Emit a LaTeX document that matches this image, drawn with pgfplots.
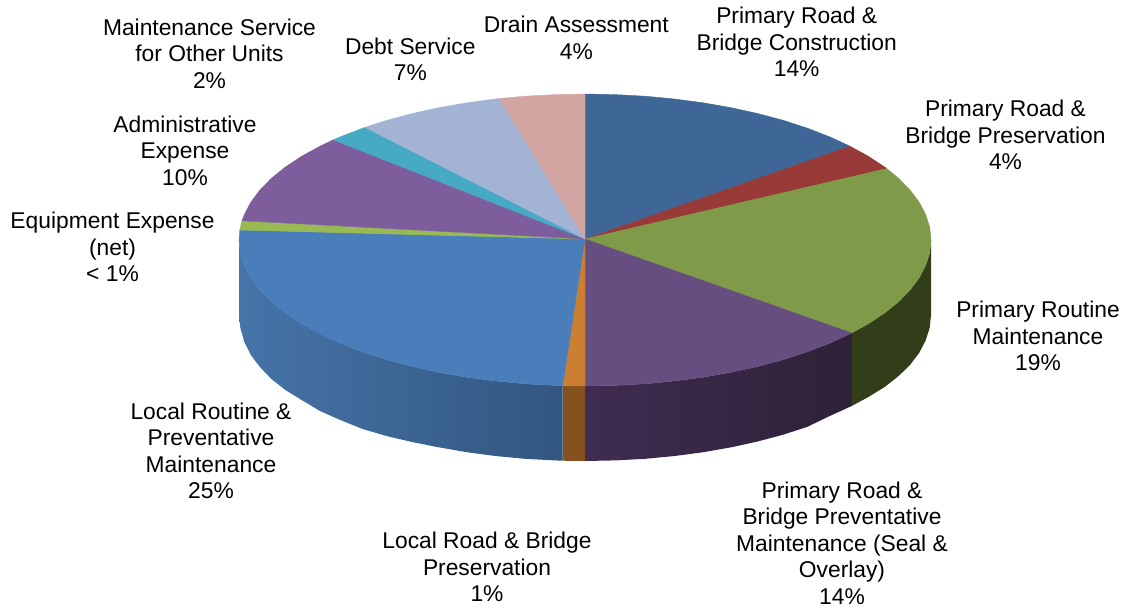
\documentclass[border=0pt]{standalone}
\usepackage{pgfplots}
\pgfplotsset{compat=1.18}
\usepackage{fontspec}
\setmainfont{Liberation Sans}
\definecolor{cNavy}{HTML}{3E6797}
\definecolor{cRed}{HTML}{983A37}
\definecolor{cGreen}{HTML}{7F9A48}
\definecolor{cPurple}{HTML}{674E81}
\definecolor{cOrange}{HTML}{CC7E31}
\definecolor{cBlue}{HTML}{4A7EBB}
\definecolor{cLime}{HTML}{98B954}
\definecolor{cViolet}{HTML}{7E5D9C}
\definecolor{cTeal}{HTML}{46AAC4}
\definecolor{cSky}{HTML}{A2B3D3}
\definecolor{cPink}{HTML}{D2A5A3}
\definecolor{sGreen}{HTML}{323D1A}
\definecolor{sBlueL}{HTML}{4674A9}
\definecolor{sBlueM}{HTML}{436A9B}
\definecolor{sBlueR}{HTML}{32567F}
\definecolor{sOrange}{HTML}{84511F}
\definecolor{sPurpleL}{HTML}{3F2D51}
\definecolor{sPurpleM}{HTML}{2F2339}
\definecolor{sPurpleR}{HTML}{2D2137}
\tikzset{lab/.style={align=center,anchor=center,inner sep=0pt,font=\fontsize{17.1}{19.9}\selectfont,text=black}}
\begin{document}
\begin{tikzpicture}
\useasboundingbox (0,0) rectangle (846pt,456pt);
\begin{axis}[
  at={(0,0)},anchor=south west,
  scale only axis,width=846pt,height=456pt,
  xmin=0,xmax=1128,ymin=0,ymax=608,y dir=reverse,
  axis lines=none,clip=false,
  every axis plot/.append style={line width=0.3pt},
]
% side walls
\addplot[draw=none,fill=sGreen] coordinates {(931,240)(929.7,252.7)(925.7,265.4)(919.2,277.8)(910.1,289.9)(898.6,301.7)(884.6,313)(868.4,323.7)(851.7,333)
 (851.7,406)(868.4,397)(884.6,387)(898.6,376)(910.1,364.9)(919.2,352.8)(925.7,340.4)(929.7,327.7)(931,315)} -- cycle;
\addplot[draw=none,left color=sPurpleL,middle color=sPurpleM,right color=sPurpleR] coordinates {(851.7,333)(850,333.8)(829.7,343.2)(807.4,351.8)(783.5,359.6)(758,366.4)(731.2,372.3)(703.3,377.2)(674.6,381)(645.1,383.8)(615.2,385.4)(585,386)
 (585,461)(615.2,460.4)(645.1,458.8)(674.6,456)(703.3,452.2)(731.2,447.3)(758,441.4)(783.5,434.6)(807.4,426.8)(829.7,416)(851.7,406)} -- cycle;
\addplot[draw=none,fill=sOrange] coordinates {(585,386)(562.7,385.7)(562.7,460.7)(585,461)} -- cycle;
\addplot[draw=none,left color=sBlueL,middle color=sBlueM,right color=sBlueR] coordinates {(562.7,385.7)(554.8,385.4)(524.9,383.8)(495.4,381)(466.7,377.2)(438.8,372.3)(412,366.4)(386.5,359.6)(362.6,351.8)(340.3,343.2)(320,333.8)(301.6,323.7)(285.4,313)(271.4,301.7)(259.9,289.9)(250.8,277.8)(244.3,265.4)(240.3,252.7)(239,240)
 (239,315)(240.3,327.7)(244.3,342)(250.8,355)(259.9,367)(271.4,379)(285.4,390)(301.6,400)(320,411)(340.3,420)(362.6,429)(386.5,436)(412,442)(438.8,447.3)(466.7,452.2)(495.4,456)(524.9,458.8)(554.8,460.4)(562.7,460.7)} -- cycle;
% top slices
\addplot[draw=cNavy,fill=cNavy] coordinates {(585,239)(585,94)(615.2,94.6)(645.1,96.2)(674.6,99)(703.3,102.8)(731.2,107.7)(758,113.6)(783.5,120.4)(807.4,128.2)(829.7,136.8)(850,146.2)} -- cycle;
\addplot[draw=cRed,fill=cRed] coordinates {(585,239)(850,146.2)(868.4,156.3)(884.6,167)(886.7,168.6)} -- cycle;
\addplot[draw=cGreen,fill=cGreen] coordinates {(585,239)(886.7,168.6)(898.6,178.3)(910.1,190.1)(919.2,202.2)(925.7,214.6)(929.7,227.3)(931,240)(929.7,252.7)(925.7,265.4)(919.2,277.8)(910.1,289.9)(898.6,301.7)(884.6,313)(868.4,323.7)(851.7,333)} -- cycle;
\addplot[draw=cPurple,fill=cPurple] coordinates {(585,239)(851.7,333)(850,333.8)(829.7,343.2)(807.4,351.8)(783.5,359.6)(758,366.4)(731.2,372.3)(703.3,377.2)(674.6,381)(645.1,383.8)(615.2,385.4)(585,386)} -- cycle;
\addplot[draw=cOrange,fill=cOrange] coordinates {(585,239)(585,386)(562.7,385.7)} -- cycle;
\addplot[draw=cBlue,fill=cBlue] coordinates {(585,239)(562.7,385.7)(554.8,385.4)(524.9,383.8)(495.4,381)(466.7,377.2)(438.8,372.3)(412,366.4)(386.5,359.6)(362.6,351.8)(340.3,343.2)(320,333.8)(301.6,323.7)(285.4,313)(271.4,301.7)(259.9,289.9)(250.8,277.8)(244.3,265.4)(240.3,252.7)(239,240)(239.8,230)} -- cycle;
\addplot[draw=cLime,fill=cLime] coordinates {(585,239)(239.8,230)(240.3,227.3)(242,220.7)} -- cycle;
\addplot[draw=cViolet,fill=cViolet] coordinates {(585,239)(242,220.7)(244.3,214.6)(250.8,202.2)(259.9,190.1)(271.4,178.3)(285.4,167)(301.6,156.3)(320,146.2)(333.3,139.8)} -- cycle;
\addplot[draw=cTeal,fill=cTeal] coordinates {(585,239)(333.3,139.8)(340.3,136.8)(362.6,128.2)(365,127.3)} -- cycle;
\addplot[draw=cSky,fill=cSky] coordinates {(585,239)(365,127.3)(386.5,120.4)(412,113.6)(438.8,107.7)(466.7,102.8)(495.4,99)(499.3,98.5)} -- cycle;
\addplot[draw=cPink,fill=cPink] coordinates {(585,239)(499.3,98.5)(524.9,96.2)(554.8,94.6)(585,94)} -- cycle;
% labels
\node[lab] at (axis cs:209.5,53.5) {Maintenance Service\\for Other Units\\2\%};
\node[lab] at (axis cs:410.3,59.5) {Debt Service\\7\%};
\node[lab] at (axis cs:576.3,38) {Drain Assessment\\4\%};
\node[lab] at (axis cs:796.7,42) {Primary Road \&\\Bridge Construction\\14\%};
\node[lab] at (axis cs:1005.5,135) {Primary Road \&\\Bridge Preservation\\4\%};
\node[lab] at (axis cs:1038,336) {Primary Routine\\Maintenance\\19\%};
\node[lab] at (axis cs:842,543) {Primary Road \&\\Bridge Preventative\\Maintenance (Seal \&\\Overlay)\\14\%};
\node[lab] at (axis cs:487,567) {Local Road \& Bridge\\Preservation\\1\%};
\node[lab] at (axis cs:211,451) {Local Routine \&\\Preventative\\Maintenance\\25\%};
\node[lab] at (axis cs:112.5,247) {Equipment Expense\\(net)\\< 1\%};
\node[lab] at (axis cs:185,150.5) {Administrative\\Expense\\10\%};
\end{axis}
\end{tikzpicture}
\end{document}
